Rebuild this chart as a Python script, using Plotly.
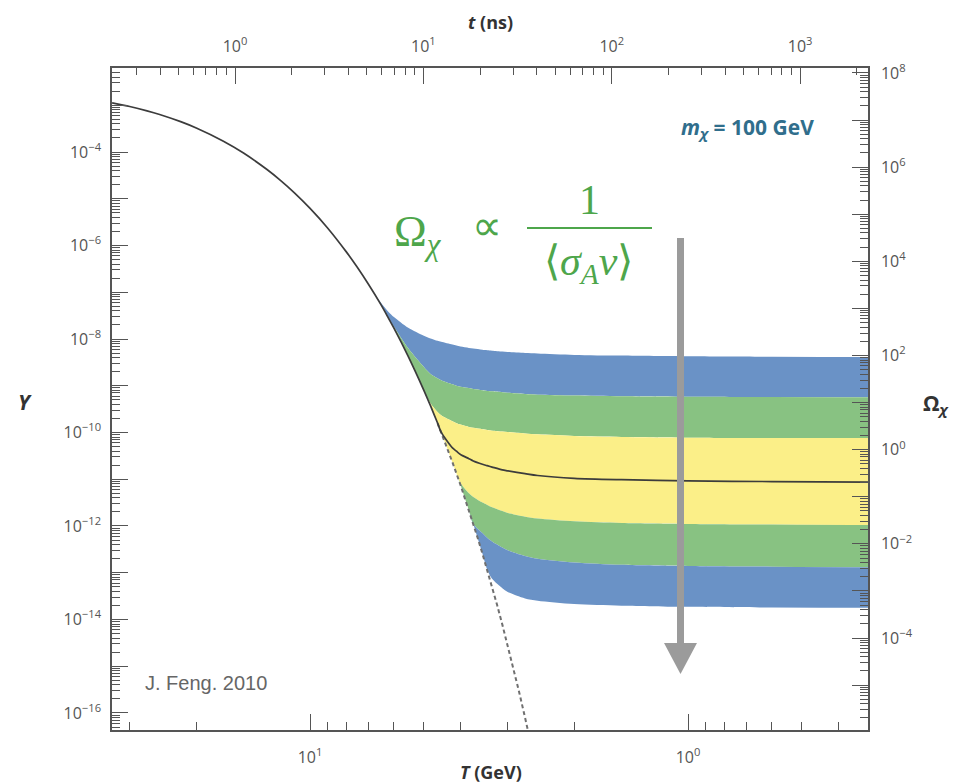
import plotly.graph_objects as go

# ---------------- data ----------------
# temperature grid, GeV (bottom axis, decreasing to the right)
T_GRID = [33.4, 30, 27, 25, 22, 20, 17, 15, 13, 12, 11, 10, 9, 8, 7.5, 7, 6.5, 6.2, 6,
          5.5, 5, 4.8, 4.6, 4.5, 4.2, 4.1, 4, 3.8, 3.7, 3.5, 3.4, 3.3, 3.1, 3, 2.7,
          2.5, 2, 1.5, 1, 0.6, 0.334]
# log10 Y of the equilibrium curve on the first part of the grid
LOGY_EQ = [-2.949, -3.026, -3.119, -3.197, -3.351, -3.486, -3.764, -4.022, -4.375,
           -4.601, -4.873, -5.206, -5.619, -6.147, -6.467, -6.835, -7.26, -7.557,
           -7.768, -8.371, -9.098, -9.432, -9.798, -9.994, -10.64, -10.875, -11.123,
           -11.663, -11.955, -12.59, -12.93, -13.30, -14.11, -14.556, -16.096]
# dashed continuation of equilibrium
T_DASH = [4.6, 4.5, 4.2, 4.0, 3.8, 3.6, 3.5, 3.4, 3.3, 3.2, 3.1, 3.0, 2.9, 2.8, 2.7, 2.6]
LOGY_DASH = [-9.798, -9.994, -10.64, -11.123, -11.663, -12.262, -12.59, -12.93, -13.30,
             -13.692, -14.11, -14.556, -15.03, -15.544, -16.096, -16.69]
# tails (after freeze-out) of each band boundary, aligned to the end of T_GRID
TAIL_TOP_BLUE = [-7.22, -7.42, -7.53, -7.76, -7.93, -7.99, -8.04, -8.06, -8.12, -8.14,
                 -8.16, -8.19, -8.205, -8.23, -8.24, -8.25, -8.27, -8.28, -8.30, -8.31,
                 -8.34, -8.355, -8.37, -8.38, -8.385]
TAIL_BLUE_GREEN = [-7.74, -8.2, -8.6, -8.75, -8.84, -8.88, -8.97, -9.0, -9.02, -9.05,
                   -9.07, -9.095, -9.11, -9.12, -9.14, -9.15, -9.175, -9.19, -9.21,
                   -9.225, -9.235, -9.24, -9.245]
TAIL_GREEN_YELLOW = [-9.38, -9.56, -9.63, -9.76, -9.80, -9.83, -9.88, -9.90, -9.93,
                     -9.945, -9.96, -9.98, -9.99, -10.02, -10.04, -10.075, -10.095,
                     -10.11, -10.117, -10.12]
TAIL_CENTER = [-10.33, -10.40, -10.47, -10.56, -10.61, -10.68, -10.71, -10.74, -10.80,
               -10.82, -10.88, -10.92, -10.98, -11.01, -11.035, -11.05, -11.06]
TAIL_YELLOW_GREEN = [-11.08, -11.30, -11.38, -11.50, -11.55, -11.60, -11.68, -11.72,
                     -11.80, -11.84, -11.90, -11.935, -11.955, -11.97, -11.98]
TAIL_GREEN_BLUE = [-12.15, -12.25, -12.33, -12.46, -12.52, -12.64, -12.70, -12.78,
                   -12.83, -12.855, -12.87, -12.88]
TAIL_BOTTOM_BLUE = [-13.13, -13.33, -13.41, -13.55, -13.60, -13.67, -13.705, -13.73,
                    -13.745, -13.75]

Y_DECADES = list(range(-16, -2))
OMEGA_DECADES = list(range(-5, 9))
T_DECADES = [0, 1]
t_DECADES = [0, 1, 2, 3]

BLUE = "#6a92c6"
GREEN = "#88c282"
YELLOW = "#fbef88"

# ---------------- build ----------------
def full(tail):
    n = len(T_GRID) - len(tail)
    return [10 ** v for v in LOGY_EQ[:n] + tail]

fig = go.Figure()
bounds = [(TAIL_TOP_BLUE, None), (TAIL_BLUE_GREEN, BLUE), (TAIL_GREEN_YELLOW, GREEN),
          (TAIL_YELLOW_GREEN, YELLOW), (TAIL_GREEN_BLUE, GREEN), (TAIL_BOTTOM_BLUE, BLUE)]
for tail, col in bounds:
    fig.add_trace(go.Scatter(
        x=T_GRID, y=full(tail), mode="lines",
        line=dict(width=0, color="rgba(0,0,0,0)", shape="spline", smoothing=0.8),
        fill="tonexty" if col else None, fillcolor=col, hoverinfo="skip", showlegend=False))

fig.add_trace(go.Scatter(x=T_DASH, y=[10 ** v for v in LOGY_DASH], mode="lines",
                         line=dict(color="#707070", width=2, dash="4px,3px"),
                         showlegend=False, hoverinfo="skip"))
fig.add_trace(go.Scatter(x=T_GRID, y=full(TAIL_CENTER), mode="lines",
                         line=dict(color="#3c3c3c", width=1.7, shape="spline", smoothing=0.8),
                         showlegend=False, hoverinfo="skip"))
# invisible helpers so the top and right axes get drawn
fig.add_trace(go.Scatter(x=[10.0 ** t_DECADES[1]], y=[10.0 ** Y_DECADES[5]], xaxis="x2",
                         yaxis="y", mode="markers", marker=dict(opacity=0),
                         hoverinfo="skip", showlegend=False))
fig.add_trace(go.Scatter(x=[10.0 ** T_DECADES[1]], y=[10.0 ** OMEGA_DECADES[5]], xaxis="x",
                         yaxis="y2", mode="markers", marker=dict(opacity=0),
                         hoverinfo="skip", showlegend=False))

TICKFONT = dict(family="Open Sans", size=16, color="#555")
AXC = "#555"


def sup(e):
    s = str(e).replace("-", "\u2212")
    return f"10<sup>{s}</sup>"


def minors(decades_lo, decades_hi):
    out = []
    for d in range(decades_lo, decades_hi + 1):
        for m in range(2, 10):
            out.append(m * 10.0 ** d)
    return out


common = dict(type="log", showgrid=False, zeroline=False, showline=True, linecolor=AXC,
              linewidth=1.5, ticks="inside", tickcolor=AXC, tickwidth=1.2, ticklen=16,
              tickfont=TICKFONT, tickmode="array", autorange=False)

fig.update_layout(
    width=969, height=784, autosize=False,
    margin=dict(l=112, r=101, t=68, b=54, pad=0),
    paper_bgcolor="white", plot_bgcolor="white",
    xaxis=dict(**common, range=[1.524, -0.476],
               tickvals=[10.0 ** d for d in T_DECADES], ticktext=[sup(d) for d in T_DECADES],
               minor=dict(tickmode="array", tickvals=minors(-1, 1), ticks="inside",
                          ticklen=8, tickcolor=AXC, tickwidth=1.2),
               ticklabelstandoff=12),
    xaxis2=dict(**common, range=[-0.653, 3.36], overlaying="x", side="top", anchor="y",
                tickvals=[10.0 ** d for d in t_DECADES], ticktext=[sup(d) for d in t_DECADES],
                minor=dict(tickmode="array", tickvals=minors(-1, 3), ticks="inside",
                           ticklen=7, tickcolor=AXC, tickwidth=1.2),
                ticklabelstandoff=8),
    yaxis=dict(**common, range=[-16.364, -2.203],
               tickvals=[10.0 ** d for d in Y_DECADES],
               ticktext=[sup(d) if d % 2 == 0 else "" for d in Y_DECADES],
               minor=dict(tickmode="array", tickvals=minors(-17, -3), ticks="inside",
                          ticklen=8, tickcolor=AXC, tickwidth=1.2),
               ticklabelstandoff=6),
    yaxis2=dict(**common, range=[-5.954, 8.106], overlaying="y", side="right", anchor="x",
                tickvals=[10.0 ** d for d in OMEGA_DECADES],
                ticktext=[sup(d) if d % 2 == 0 else "" for d in OMEGA_DECADES],
                minor=dict(tickmode="array", tickvals=minors(-6, 8), ticks="inside",
                           ticklen=8, tickcolor=AXC, tickwidth=1.2),
                ticklabelstandoff=8),
)


def px(x):
    return (x - 112) / 756


def py(y):
    return (730 - y) / 662


TITLEFONT = dict(family="Open Sans", size=18, color="#333")
BIGTITLE = dict(family="Open Sans", size=21, color="#333")
GREENTXT = "#4ea64b"
SERIF = "Liberation Serif"
ann = [
    dict(x=px(25), y=py(402), text="<b><i>Y</i></b>", font=BIGTITLE),
    dict(x=px(937), y=py(404), text="<b>Ω<sub><i>χ</i></sub></b>", font=BIGTITLE),
    dict(x=px(490), y=py(22), text="<b><i>t</i> (ns)</b>", font=TITLEFONT),
    dict(x=px(491), y=py(772), text="<b><i>T</i> (GeV)</b>", font=TITLEFONT),
    dict(x=px(747), y=py(128), text="<b><i>m<sub>χ</sub></i> = 100 GeV</b>",
         font=dict(family="Open Sans", size=21, color="#306e8c")),
    dict(x=px(143), y=py(683), xanchor="left", text="J. Feng. 2010",
         font=dict(family="Liberation Sans", size=20, color="#666")),
    dict(x=px(392), y=py(234), xanchor="left", text="Ω<sub><i>χ</i></sub>",
         font=dict(family=SERIF, size=44, color=GREENTXT)),
    dict(x=px(487), y=py(226), text="∝",
         font=dict(family=SERIF, size=42, color=GREENTXT)),
    dict(x=px(589), y=py(200), text="1", font=dict(family=SERIF, size=42, color=GREENTXT)),
    dict(x=px(588), y=py(264), text="⟨<i>σ<sub>A</sub>v</i>⟩",
         font=dict(family=SERIF, size=42, color=GREENTXT)),
]
for a in ann:
    a.setdefault("xanchor", "center")
    a.update(xref="paper", yref="paper", showarrow=False, yanchor="middle")
fig.update_layout(annotations=ann)

fig.add_shape(type="line", xref="paper", yref="paper", x0=px(527), x1=px(652),
              y0=py(228), y1=py(228), line=dict(color=GREENTXT, width=2))
fig.add_shape(type="line", xref="paper", yref="paper", x0=px(680.5), x1=px(680.5),
              y0=py(238), y1=py(648), line=dict(color="#9b9b9b", width=7))
fig.add_shape(type="path", xref="paper", yref="paper",
              path=f"M {px(664)},{py(643)} L {px(697)},{py(643)} L {px(680.5)},{py(674)} Z",
              fillcolor="#9b9b9b", line=dict(width=0))

fig.write_html("out.html")
